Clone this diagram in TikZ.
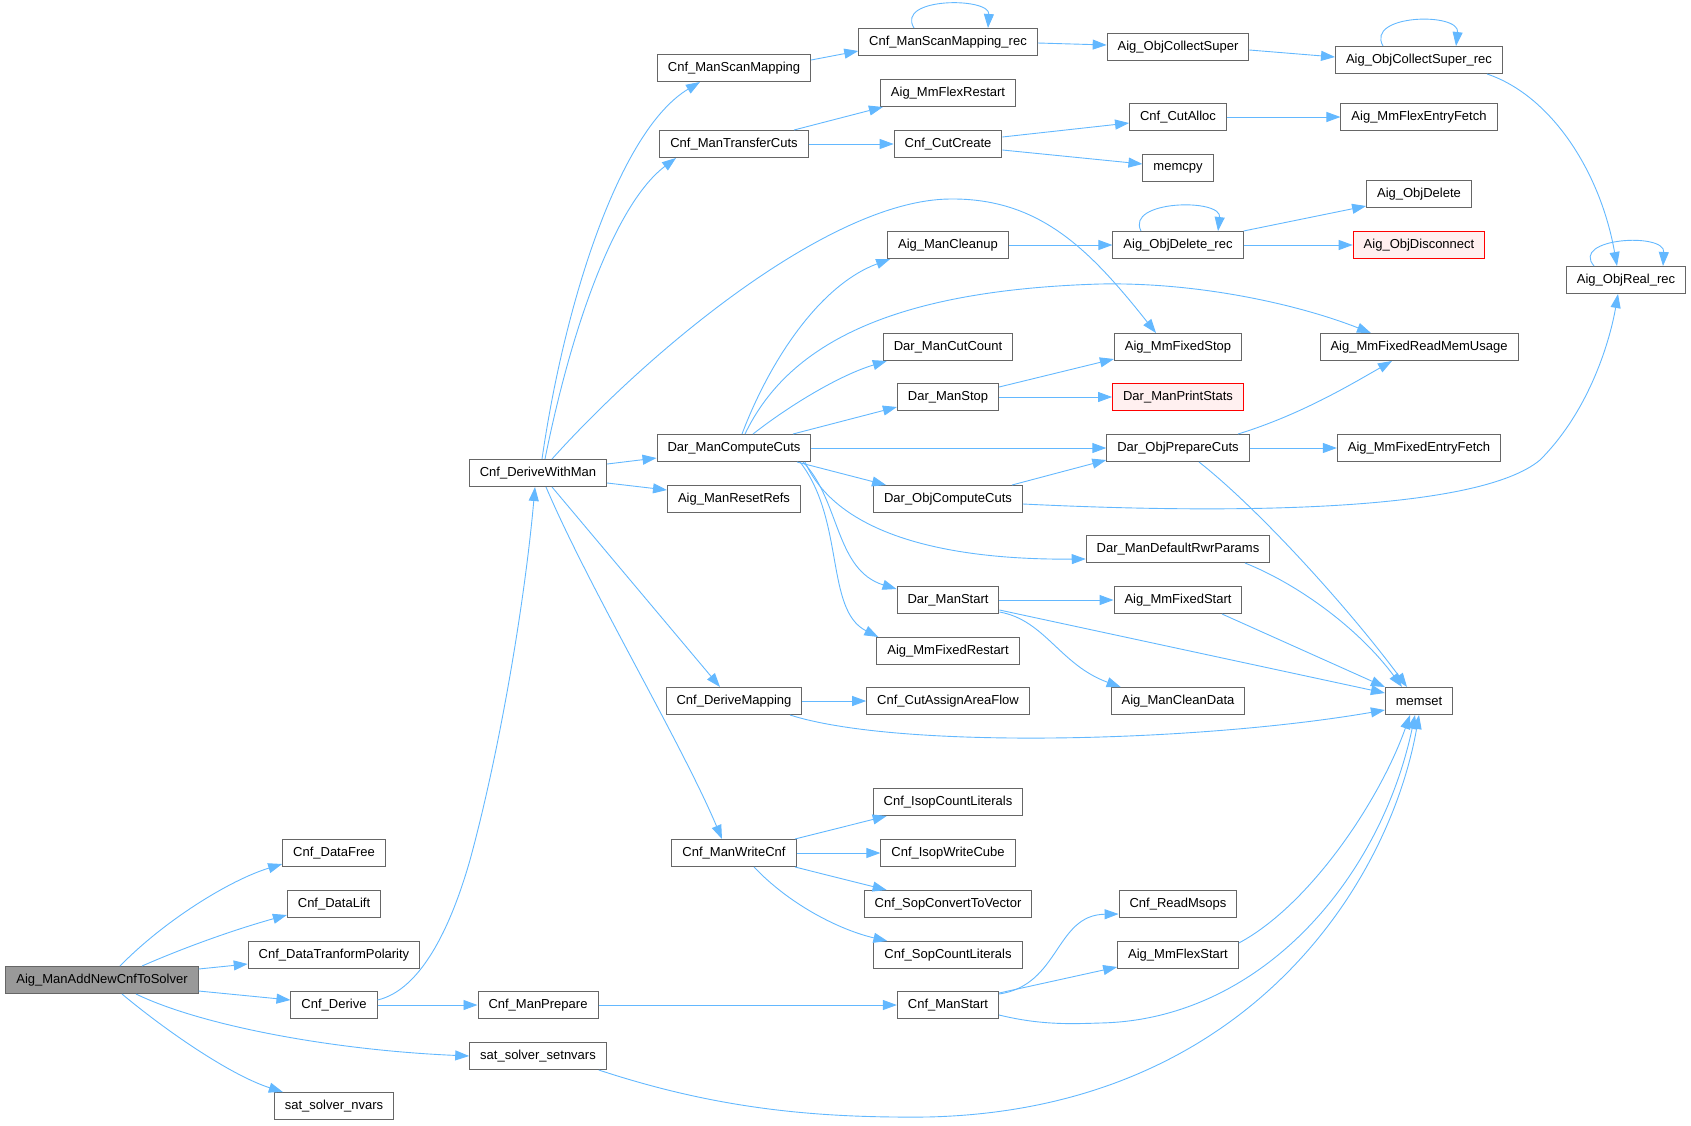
\documentclass[tikz,border=0pt]{standalone}
\usepackage{fontspec}
\setmainfont{Liberation Sans}
\usetikzlibrary{arrows.meta}
\definecolor{edgeblue}{HTML}{63B8FF}
\definecolor{boxgray}{HTML}{666666}
\definecolor{rootfill}{HTML}{999999}
\definecolor{redfill}{HTML}{FFF0F0}
\tikzset{
  box/.style={draw=boxgray, fill=white, line width=1pt, rectangle, minimum height=27pt,
    inner xsep=10.5pt, inner ysep=0pt, font=\fontsize{13pt}{15pt}\selectfont},
  rootbox/.style={box, fill=rootfill},
  redbox/.style={box, draw=red, fill=redfill},
  e/.style={draw=edgeblue, line width=0.9pt, -{Triangle[length=14pt,width=10pt]}},
}
\begin{document}
\begin{tikzpicture}[x=1pt,y=-1pt]
\useasboundingbox (0,0) rectangle (1691,1125);
% column 1
\node[rootbox] (R) at (102,980) {Aig\_ManAddNewCnfToSolver};
% column 2
\node[box] (DataFree) at (334,853) {Cnf\_DataFree};
\node[box] (DataLift) at (334,904) {Cnf\_DataLift};
\node[box] (DataTP) at (334,955) {Cnf\_DataTranformPolarity};
\node[box] (Derive) at (334,1005) {Cnf\_Derive};
\node[box] (SSnvars) at (334,1106) {sat\_solver\_nvars};
% column 3
\node[box] (DWM) at (538,473) {Cnf\_DeriveWithMan};
\node[box] (ManPrepare) at (538,1005) {Cnf\_ManPrepare};
\node[box] (SSset) at (538,1056) {sat\_solver\_setnvars};
% column 4
\node[box] (ScanMap) at (734,68) {Cnf\_ManScanMapping};
\node[box] (TransferCuts) at (734,144) {Cnf\_ManTransferCuts};
\node[box] (DMC) at (734,448) {Dar\_ManComputeCuts};
\node[box] (ResetRefs) at (734,499) {Aig\_ManResetRefs};
\node[box] (DeriveMapping) at (734,701) {Cnf\_DeriveMapping};
\node[box] (WriteCnf) at (734,853) {Cnf\_ManWriteCnf};
% column 5
\node[box] (ScanRec) at (948,42) {Cnf\_ManScanMapping\_rec};
\node[box] (FlexRestart) at (948,93) {Aig\_MmFlexRestart};
\node[box] (CutCreate) at (948,144) {Cnf\_CutCreate};
\node[box] (Cleanup) at (948,245) {Aig\_ManCleanup};
\node[box] (CutCount) at (948,347) {Dar\_ManCutCount};
\node[box] (ManStop) at (948,397) {Dar\_ManStop};
\node[box] (ObjComputeCuts) at (948,499) {Dar\_ObjComputeCuts};
\node[box] (ManStart) at (948,600) {Dar\_ManStart};
\node[box] (FixedRestart) at (948,651) {Aig\_MmFixedRestart};
\node[box] (CutAssign) at (948,701) {Cnf\_CutAssignAreaFlow};
\node[box] (IsopCount) at (948,802) {Cnf\_IsopCountLiterals};
\node[box] (IsopWrite) at (948,853) {Cnf\_IsopWriteCube};
\node[box] (SopConvert) at (948,904) {Cnf\_SopConvertToVector};
\node[box] (SopCount) at (948,955) {Cnf\_SopCountLiterals};
\node[box] (CnfManStart) at (948,1005) {Cnf\_ManStart};
% column 6
\node[box] (CollectSuper) at (1178,47) {Aig\_ObjCollectSuper};
\node[box] (CutAlloc) at (1178,117) {Cnf\_CutAlloc};
\node[box] (memcpy) at (1178,168) {memcpy};
\node[box] (ObjDeleteRec) at (1178,245) {Aig\_ObjDelete\_rec};
\node[box] (FixedStop) at (1178,347) {Aig\_MmFixedStop};
\node[redbox] (PrintStats) at (1178,397) {Dar\_ManPrintStats};
\node[box] (PrepareCuts) at (1178,448) {Dar\_ObjPrepareCuts};
\node[box] (DefaultRwr) at (1178,549) {Dar\_ManDefaultRwrParams};
\node[box] (FixedStart) at (1178,600) {Aig\_MmFixedStart};
\node[box] (CleanData) at (1178,701) {Aig\_ManCleanData};
\node[box] (ReadMsops) at (1178,904) {Cnf\_ReadMsops};
\node[box] (FlexStart) at (1178,955) {Aig\_MmFlexStart};
% column 7
\node[box] (CollectSuperRec) at (1419,60) {Aig\_ObjCollectSuper\_rec};
\node[box] (FlexEntryFetch) at (1419,117) {Aig\_MmFlexEntryFetch};
\node[box] (ObjDelete) at (1419,194) {Aig\_ObjDelete};
\node[redbox] (Disconnect) at (1419,245) {Aig\_ObjDisconnect};
\node[box] (ReadMemUsage) at (1419,347) {Aig\_MmFixedReadMemUsage};
\node[box] (FixedEntryFetch) at (1419,448) {Aig\_MmFixedEntryFetch};
\node[box] (memset) at (1419,701) {memset};
% column 8
\node[box] (ObjRealRec) at (1626,280) {Aig\_ObjReal\_rec};

% ---- edges from root
\draw[e] ([xshift=18pt]R.north) .. controls (165,920) and (230,880) .. ([yshift=3pt]DataFree.south west);
\draw[e] ([xshift=40pt]R.north) .. controls (190,945) and (240,928) .. ([yshift=3pt]DataLift.south west);
\draw[e] ([yshift=11pt]R.east) -- ([yshift=-9pt]DataTP.west);
\draw[e] ([yshift=-11pt]R.east) -- ([yshift=5pt]Derive.west);
\draw[e] ([xshift=34pt]R.south) .. controls (200,1025) and (330,1050) .. (SSset.west);
\draw[e] ([xshift=20pt]R.south) .. controls (165,1030) and (230,1075) .. ([xshift=9pt]SSnvars.north west);
% ---- Cnf_Derive
\draw[e] ([yshift=5pt]Derive.east) .. controls (420,990) and (450,930) .. (470,860) .. controls (500,750) and (525,600) .. ([xshift=-3pt]DWM.south);
\draw[e] (Derive.east) -- (ManPrepare.west);
\draw[e] (ManPrepare.east) -- (CnfManStart.west);
% ---- sat_solver_setnvars
\draw[e] ([xshift=-8pt]SSset.south east) .. controls (720,1110) and (820,1118) .. (927,1117) .. controls (1250,1110) and (1390,880) .. (memset.south);
% ---- Cnf_DeriveWithMan
\draw[e] ([xshift=4pt]DWM.north) .. controls (565,300) and (620,130) .. ([xshift=-34pt]ScanMap.south);
\draw[e] ([xshift=7pt]DWM.north) .. controls (575,310) and (620,200) .. ([xshift=-58pt]TransferCuts.south);
\draw[e] ([xshift=14pt]DWM.north) .. controls (650,350) and (830,200) .. (950,199) .. controls (1040,198) and (1090,250) .. ([xshift=-22pt]FixedStop.north);
\draw[e] ([yshift=9pt]DWM.east) -- ([yshift=-10pt]DMC.west);
\draw[e] ([yshift=-10pt]DWM.east) -- ([yshift=9pt]ResetRefs.west);
\draw[e] ([xshift=14pt]DWM.south) -- ([xshift=-14pt]DeriveMapping.north);
\draw[e] ([xshift=8pt]DWM.south) .. controls (590,590) and (680,740) .. ([xshift=-12pt]WriteCnf.north);
% ---- Dar_ManComputeCuts
\draw[e] ([xshift=8pt]DMC.north) .. controls (770,360) and (820,285) .. ([xshift=3pt]Cleanup.south west);
\draw[e] ([xshift=11pt]DMC.north) .. controls (790,340) and (900,290) .. (1100,284) .. controls (1200,282) and (1300,305) .. ([xshift=-48pt]ReadMemUsage.north);
\draw[e] ([xshift=19pt]DMC.north) .. controls (790,405) and (840,375) .. ([xshift=4pt]CutCount.south west);
\draw[e] ([xshift=59pt]DMC.north) -- ([yshift=-10pt]ManStop.west);
\draw[e] (DMC.east) -- (PrepareCuts.west);
\draw[e] ([xshift=63pt]DMC.south) -- ([xshift=13pt]ObjComputeCuts.north west);
\draw[e] ([xshift=71pt]DMC.south) .. controls (840,540) and (960,560) .. ([yshift=-10pt]DefaultRwr.west);
\draw[e] ([xshift=69pt]DMC.south) .. controls (840,500) and (835,570) .. ([yshift=-3pt]ManStart.north west);
\draw[e] ([xshift=66pt]DMC.south) .. controls (845,520) and (825,610) .. ([xshift=2pt]FixedRestart.north west);
% ---- scan mapping chain
\draw[e] ([yshift=8pt]ScanMap.east) -- ([yshift=-9pt]ScanRec.west);
\draw[e] ([xshift=-34pt]ScanRec.north) .. controls (895,-3) and (990,-3) .. ([xshift=40pt]ScanRec.north);
\draw[e] ([yshift=-1pt]ScanRec.east) -- ([yshift=2pt]CollectSuper.west);
\draw[e] ([yshift=-3pt]CollectSuper.east) -- ([yshift=3pt]CollectSuperRec.west);
\draw[e] ([xshift=-36pt]CollectSuperRec.north) .. controls (1365,14) and (1460,12) .. ([xshift=37pt]CollectSuperRec.north);
\draw[e] ([xshift=68pt]CollectSuperRec.south) .. controls (1550,95) and (1600,170) .. ([xshift=-9pt]ObjRealRec.north);
\draw[e] ([xshift=-32pt]ObjRealRec.north) .. controls (1570,238) and (1665,232) .. ([xshift=37pt]ObjRealRec.north);
% ---- transfer cuts
\draw[e] ([xshift=60pt]TransferCuts.north) -- ([xshift=3pt]FlexRestart.south west);
\draw[e] (TransferCuts.east) -- (CutCreate.west);
\draw[e] ([yshift=7pt]CutCreate.east) -- ([yshift=-6pt]CutAlloc.west);
\draw[e] ([yshift=-6pt]CutCreate.east) -- ([yshift=4pt]memcpy.west);
\draw[e] (CutAlloc.east) -- (FlexEntryFetch.west);
% ---- cleanup
\draw[e] (Cleanup.east) -- (ObjDeleteRec.west);
\draw[e] ([xshift=-37pt]ObjDeleteRec.north) .. controls (1125,200) and (1222,198) .. ([xshift=40pt]ObjDeleteRec.north);
\draw[e] (ObjDeleteRec.north east) -- ([yshift=-12pt]ObjDelete.west);
\draw[e] (ObjDeleteRec.east) -- (Disconnect.west);
% ---- Dar_ManStop
\draw[e] ([yshift=10pt]ManStop.east) -- ([yshift=-12pt]FixedStop.west);
\draw[e] (ManStop.east) -- (PrintStats.west);
% ---- Dar_ObjPrepareCuts
\draw[e] ([xshift=60pt]PrepareCuts.north) .. controls (1300,415) and (1350,385) .. ([xshift=-27pt]ReadMemUsage.south);
\draw[e] (PrepareCuts.east) -- (FixedEntryFetch.west);
\draw[e] ([xshift=21pt]PrepareCuts.south) .. controls (1260,510) and (1350,610) .. ([xshift=-12pt]memset.north);
% ---- Dar_ObjComputeCuts
\draw[e] ([xshift=64pt]ObjComputeCuts.north) -- ([yshift=2pt]PrepareCuts.south west);
\draw[e] ([yshift=-5pt]ObjComputeCuts.east) .. controls (1250,515) and (1480,510) .. (1540,460) .. controls (1590,410) and (1610,340) .. ([xshift=-8pt]ObjRealRec.south);
% ---- others to memset
\draw[e] ([xshift=67pt]DefaultRwr.south) .. controls (1300,585) and (1360,630) .. ([xshift=-17pt]memset.north);
\draw[e] (ManStart.east) -- (FixedStart.west);
\draw[e] ([yshift=-10pt]ManStart.east) -- ([yshift=8pt]memset.west);
\draw[e] ([yshift=-12pt]ManStart.east) .. controls (1045,620) and (1060,665) .. ([xshift=10pt]CleanData.north west);
\draw[e] ([xshift=44pt]FixedStart.south) -- (memset.north west);
\draw[e] (DeriveMapping.east) -- (CutAssign.west);
\draw[e] ([xshift=56pt]DeriveMapping.south) .. controls (900,750) and (1200,742) .. ([yshift=-9pt]memset.west);
% ---- Cnf_ManWriteCnf
\draw[e] ([xshift=61pt]WriteCnf.north) -- ([xshift=14pt]IsopCount.south west);
\draw[e] (WriteCnf.east) -- (IsopWrite.west);
\draw[e] ([xshift=61pt]WriteCnf.south) -- ([xshift=23pt]SopConvert.north west);
\draw[e] ([xshift=20pt]WriteCnf.south) .. controls (790,905) and (840,930) .. ([xshift=14pt]SopCount.north west);
% ---- Cnf_ManStart
\draw[e] ([yshift=11pt]CnfManStart.east) .. controls (1060,985) and (1055,915) .. ([yshift=-10pt]ReadMsops.west);
\draw[e] ([yshift=12pt]CnfManStart.east) -- ([yshift=-12pt]FlexStart.west);
\draw[e] ([yshift=-10pt]CnfManStart.east) .. controls (1040,1025) and (1070,1024) .. (1100,1023) .. controls (1260,1020) and (1380,880) .. ([xshift=-4pt]memset.south);
\draw[e] ([yshift=12pt]FlexStart.east) .. controls (1310,905) and (1380,800) .. ([xshift=-9pt]memset.south);
\end{tikzpicture}
\end{document}
